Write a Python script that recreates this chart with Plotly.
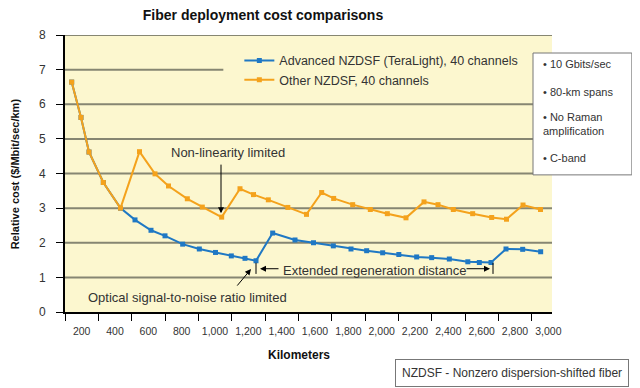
import plotly.graph_objects as go

# ---------------- data ----------------
adv_km = [140, 196, 244, 330, 433, 520, 616, 700, 806, 906, 1003, 1098, 1180, 1246,
          1346, 1480, 1591, 1710, 1816, 1910, 2006, 2103, 2210, 2300, 2406, 2517, 2586, 2656,
          2746, 2846, 2954]
adv_cost = [6.64, 5.62, 4.62, 3.74, 3.00, 2.66, 2.36, 2.20, 1.96, 1.82, 1.72, 1.62, 1.55, 1.48,
            2.28, 2.08, 2.00, 1.91, 1.82, 1.77, 1.71, 1.66, 1.59, 1.57, 1.53, 1.45, 1.43, 1.43,
            1.82, 1.81, 1.74]

oth_km = [140, 196, 244, 330, 433, 547, 640, 721, 834, 924, 1040, 1150, 1231, 1320, 1437,
          1549, 1640, 1712, 1826, 1932, 2034, 2146, 2254, 2338, 2430, 2546, 2660, 2749,
          2848, 2953]
oth_cost = [6.64, 5.62, 4.62, 3.74, 3.00, 4.63, 3.99, 3.64, 3.27, 3.03, 2.74, 3.56, 3.39, 3.24,
            3.02, 2.82, 3.45, 3.28, 3.10, 2.96, 2.84, 2.72, 3.18, 3.10, 2.96, 2.84, 2.73, 2.68,
            3.09, 2.96]

x_tick_vals = list(range(200, 3001, 200))
x_tick_text = [f"{v:,}" for v in x_tick_vals]
y_tick_vals = list(range(0, 9))

series_names = ["Advanced NZDSF (TeraLight), 40 channels", "Other NZDSF, 40 channels"]
conditions = ["• 10 Gbits/sec", "• 80-km spans", "• No Raman<br>amplification", "• C-band"]

BLUE = "#1f78c4"
ORANGE = "#f4a21c"
GRID = "#868672"
BG = "#fcf7cf"
FONT = "Liberation Sans, Arial, sans-serif"
TXT = "#333333"

X0, X1 = 100, 3022

fig = go.Figure()
fig.add_trace(go.Scatter(x=adv_km, y=adv_cost, name=series_names[0], mode="lines+markers",
                         line=dict(color=BLUE, width=2),
                         marker=dict(symbol="square", size=5, color=BLUE)))
fig.add_trace(go.Scatter(x=oth_km, y=oth_cost, name=series_names[1], mode="lines+markers",
                         line=dict(color=ORANGE, width=2),
                         marker=dict(symbol="square", size=5, color=ORANGE)))

shapes = []
# grid lines
for v in [1, 2, 3, 4, 5, 6, 8]:
    shapes.append(dict(type="line", xref="x", yref="y", x0=X0, x1=X1, y0=v, y1=v,
                       line=dict(color=GRID, width=2), layer="below"))
shapes.append(dict(type="line", xref="x", yref="y", x0=X0, x1=1050, y0=7, y1=7,
                   line=dict(color=GRID, width=2), layer="below"))
# extended regeneration distance brackets
for xb in [1246, 2668]:
    shapes.append(dict(type="line", xref="x", yref="y", x0=xb, x1=xb, y0=1.1, y1=1.42,
                       line=dict(color="black", width=1)))
# conditions box
shapes.append(dict(type="rect", xref="paper", yref="paper", x0=0.961, x1=1.164, y0=0.495, y1=0.935,
                   line=dict(color="#777777", width=1), fillcolor="white"))

annotations = []
cond_y = [0.895, 0.795, 0.68, 0.555]
for t, yy in zip(conditions, cond_y):
    annotations.append(dict(text=t, xref="paper", yref="paper", x=0.978, y=yy, xanchor="left",
                            yanchor="middle", align="left", showarrow=False,
                            font=dict(family=FONT, size=11, color=TXT)))
annotations += [
    dict(text="Non-linearity limited", x=1078, y=4.6, xref="x", yref="y", showarrow=False,
         font=dict(family=FONT, size=13, color=TXT)),
    dict(text="", x=1036, y=2.85, ax=1036, ay=4.3, xref="x", yref="y", axref="x", ayref="y",
         showarrow=True, arrowhead=2, arrowsize=1.2, arrowwidth=1, arrowcolor="black"),
    dict(text="Extended regeneration distance", x=1957, y=1.21, xref="x", yref="y", showarrow=False,
         font=dict(family=FONT, size=13, color=TXT)),
    dict(text="", x=1270, y=1.25, ax=1390, ay=1.25, xref="x", yref="y", axref="x", ayref="y",
         showarrow=True, arrowhead=2, arrowsize=1.2, arrowwidth=1, arrowcolor="black"),
    dict(text="", x=2650, y=1.25, ax=2500, ay=1.25, xref="x", yref="y", axref="x", ayref="y",
         showarrow=True, arrowhead=2, arrowsize=1.2, arrowwidth=1, arrowcolor="black"),
    dict(text="Optical signal-to-noise ratio limited", x=832, y=0.43, xref="x", yref="y",
         showarrow=False, font=dict(family=FONT, size=13, color=TXT)),
    dict(text="", x=1216, y=1.24, ax=1126, ay=0.72, xref="x", yref="y", axref="x", ayref="y",
         showarrow=True, arrowhead=2, arrowsize=1.2, arrowwidth=1, arrowcolor="black"),
    dict(text="NZDSF - Nonzero dispersion-shifted fiber", xref="paper", yref="paper", x=0.918, y=-0.22,
         xanchor="center", yanchor="middle",
         showarrow=False, bordercolor="#777777", borderwidth=1, borderpad=6, bgcolor="white",
         font=dict(family=FONT, size=12, color=TXT)),
    dict(text="<b>Kilometers</b>", xref="paper", yref="paper", x=0.481, y=-0.155, showarrow=False,
         xanchor="center", yanchor="middle", font=dict(family=FONT, size=12, color="#111111")),
    dict(text="<b>Relative cost ($/Mbit/sec/km)</b>", xref="paper", yref="paper", x=-0.103, y=0.5,
         textangle=-90, showarrow=False, xanchor="center", yanchor="middle",
         font=dict(family=FONT, size=11, color="#111111")),
]

# page body adds an 8px offset, so the figure is 632x380 and margins are reduced by 8px
fig.update_layout(
    width=632, height=380,
    margin=dict(l=57, r=88, t=27, b=76),
    paper_bgcolor="white", plot_bgcolor=BG,
    title=dict(text="<b>Fiber deployment cost comparisons</b>", x=0.4035, xanchor="center",
               y=0.981, yanchor="middle", xref="container", yref="container",
               font=dict(family=FONT, size=14, color="#111111")),
    font=dict(family=FONT, size=12, color=TXT),
    showlegend=True,
    legend=dict(x=0.358, y=0.961, xanchor="left", yanchor="top", bgcolor="rgba(0,0,0,0)",
                font=dict(family=FONT, size=12.5, color=TXT), itemwidth=30, tracegroupgap=0),
    xaxis=dict(range=[X0, X1], tickvals=x_tick_vals, ticktext=x_tick_text, ticks="",
               showgrid=False, zeroline=False, showline=True, linecolor="black", linewidth=2,
               automargin=False, ticklabelstandoff=8,
               minor=dict(tick0=100, dtick=200, ticks="outside", ticklen=7, tickcolor="black",
                          tickwidth=1, showgrid=False),
               tickfont=dict(family=FONT, size=10.5, color=TXT)),
    yaxis=dict(range=[0, 8], tickvals=y_tick_vals, ticks="outside", ticklen=7, tickcolor="black",
               showgrid=False, zeroline=False, showline=True, linecolor="black", linewidth=2,
               ticklabelstandoff=8, automargin=False,
               tickfont=dict(family=FONT, size=12, color=TXT)),
    shapes=shapes, annotations=annotations,
)

fig.write_html("out.html")
